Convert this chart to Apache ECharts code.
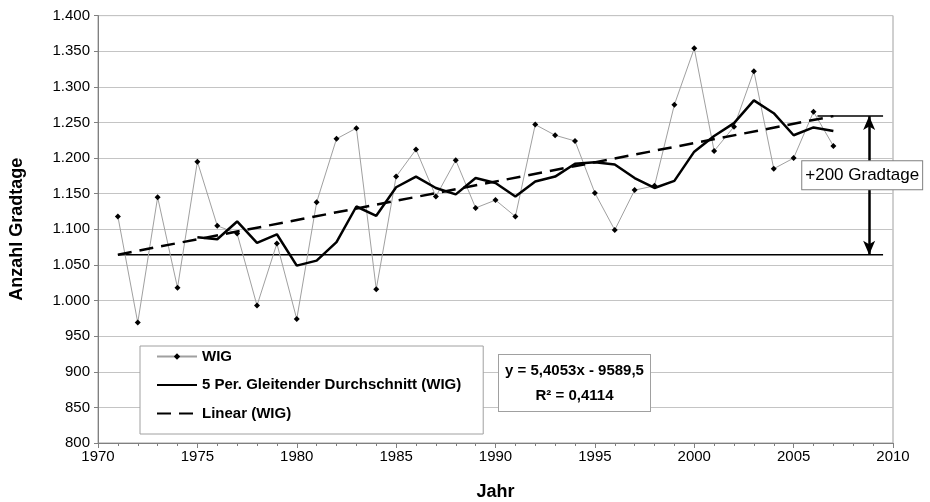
<!DOCTYPE html>
<html><head><meta charset="utf-8">
<script src="https://cdn.jsdelivr.net/npm/echarts@6/dist/echarts.min.js"></script>
<style>html,body{margin:0;padding:0;background:#fff}#c{width:930px;height:502px}</style>
</head><body><div id="c"></div>
<script>
const years = [1971,1972,1973,1974,1975,1976,1977,1978,1979,1980,1981,1982,1983,1984,1985,1986,1987,1988,1989,1990,1991,1992,1993,1994,1995,1996,1997,1998,1999,2000,2001,2002,2003,2004,2005,2006,2007];
const wig = [1118,969,1145,1018,1195,1105,1094,993,1080,974,1138,1227,1242,1016,1174,1212,1146,1197,1130,1141,1118,1247,1232,1224,1151,1099,1155,1161,1275,1354,1210,1244,1322,1185,1200,1265,1217];
const maYears = [1975,1976,1977,1978,1979,1980,1981,1982,1983,1984,1985,1986,1987,1988,1989,1990,1991,1992,1993,1994,1995,1996,1997,1998,1999,2000,2001,2002,2003,2004,2005,2006,2007];
const ma = [1089,1086,1111,1081,1093,1049,1056,1082,1132,1119,1159,1174,1158,1149,1172,1165,1146,1167,1174,1192,1194,1191,1172,1158,1168,1209,1231,1249,1281,1263,1232,1243,1238];
const trendYears = [1971,2007];
const trend = [1064.4,1258.9];
const baseYears = [1971,2009.5];
const baseVal = [1064.4,1064.4];
const topYears = [2006.2,2009.5];
const topVal = [1258.9,1258.9];
const arrowYear = 2008.8;
const deltaLabel = '+200 Gradtage';
const deltaPos = [2008.45,1176];
const eqLines = ['y = 5,4053x - 9589,5','R² = 0,4114'];
const names = ['WIG','5 Per. Gleitender Durchschnitt (WIG)','Linear (WIG)'];

const FONT = '"Liberation Sans", Arial, sans-serif';
const chart = echarts.init(document.getElementById('c'), null, {renderer:'canvas'});
const fmt = v => v >= 1000 ? Math.floor(v/1000) + '.' + String(v%1000).padStart(3,'0') : String(v);

chart.setOption({
  animation:false,
  backgroundColor:'#fff',
  textStyle:{fontFamily:FONT},
  grid:{left:98,right:37,top:15.6,bottom:59,show:true,borderColor:'#a0a0a0',borderWidth:1,outerBoundsMode:'none',containLabel:false},
  xAxis:{
    type:'value',min:1970,max:2010,interval:5,
    name:'Jahr',nameLocation:'middle',nameGap:40,
    nameTextStyle:{fontFamily:FONT,fontWeight:'bold',fontSize:18,color:'#000'},
    axisLine:{lineStyle:{color:'#808080',width:1}},
    axisTick:{show:true,length:5,lineStyle:{color:'#808080'}},
    minorTick:{show:true,splitNumber:5,length:3,lineStyle:{color:'#808080'}},
    axisLabel:{fontFamily:FONT,fontSize:15,color:'#000',margin:6,formatter:v=>String(v)},
    splitLine:{show:false}
  },
  yAxis:{
    type:'value',min:800,max:1400,interval:50,
    name:'Anzahl Gradtage',nameLocation:'middle',nameGap:72,
    nameTextStyle:{fontFamily:FONT,fontWeight:'bold',fontSize:18,color:'#000'},
    axisLine:{show:true,lineStyle:{color:'#808080',width:1}},
    axisTick:{show:true,length:4,lineStyle:{color:'#808080'}},
    axisLabel:{fontFamily:FONT,fontSize:15,color:'#000',margin:8,formatter:fmt},
    splitLine:{show:true,lineStyle:{color:'#c4c4c4',width:1.2}}
  },
  legend:{
    data:[
      {name:names[0]},
      {name:names[1],itemStyle:{color:'rgba(0,0,0,0)',borderWidth:0}},
      {name:names[2],itemStyle:{color:'rgba(0,0,0,0)',borderWidth:0}}
    ],
    orient:'vertical',left:140,top:346,
    padding:[3,22,13,16],itemGap:13.5,itemWidth:40,itemHeight:8,
    borderColor:'#a0a0a0',borderWidth:1,backgroundColor:'#fff',
    textStyle:{fontFamily:FONT,fontWeight:'bold',fontSize:15,color:'#000'},
    selectedMode:false
  },
  graphic:[{
    type:'text',left:498,top:354,z:100,
    style:{text:'{a|'+eqLines[0]+'}\n{a|'+eqLines[1]+'}',
      rich:{a:{width:141,align:'center',fontFamily:FONT,fontWeight:'bold',fontSize:15,fill:'#000',color:'#000',lineHeight:25}},
      backgroundColor:'#fff',borderColor:'#a0a0a0',borderWidth:1,padding:[3,5,3,5]}
  }],
  series:[
    {name:names[0],type:'line',data:years.map((y,i)=>[y,wig[i]]),
     symbol:'diamond',symbolSize:6,showSymbol:true,
     itemStyle:{color:'#000'},lineStyle:{color:'#a0a0a0',width:1},z:3},
    {name:names[1],type:'line',data:maYears.map((y,i)=>[y,ma[i]]),
     symbol:'none',lineStyle:{color:'#000',width:2.5},itemStyle:{color:'#000'},z:4},
    {name:names[2],type:'line',data:trendYears.map((y,i)=>[y,trend[i]]),
     symbol:'none',lineStyle:{color:'#000',width:2.5,type:[14,8]},itemStyle:{color:'#000'},z:4},
    {name:'base',type:'line',data:baseYears.map((y,i)=>[y,baseVal[i]]),
     symbol:'none',lineStyle:{color:'#000',width:1.5},silent:true,z:2,
     markLine:{silent:true,symbol:['arrow','arrow'],symbolSize:[9,14],
       lineStyle:{color:'#000',width:2.5,type:'solid'},label:{show:false},
       data:[[{coord:[arrowYear,topVal[0]]},{coord:[arrowYear,baseVal[0]]}]]},
     markPoint:{silent:true,symbol:'rect',symbolSize:0,
       data:[{coord:deltaPos,label:{show:true,formatter:deltaLabel,position:'inside',
         fontFamily:FONT,fontSize:17,color:'#000',backgroundColor:'#fff',borderColor:'#808080',
         borderWidth:1,padding:[6,3,5,3]}}]}},
    {name:'top',type:'line',data:topYears.map((y,i)=>[y,topVal[i]]),
     symbol:'none',lineStyle:{color:'#000',width:1.5},silent:true,z:2}
  ]
});
</script></body></html>
